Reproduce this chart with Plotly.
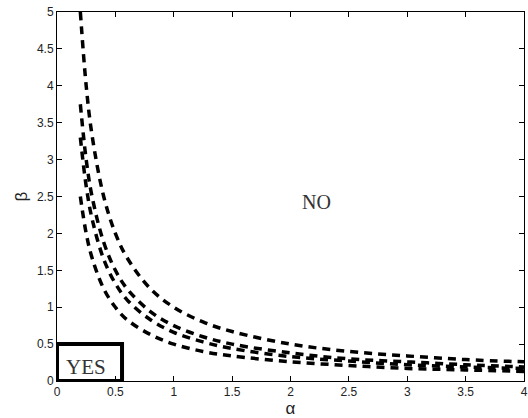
import plotly.graph_objects as go

# alpha values at which the curves were read
alpha = [0.2, 0.25, 0.3, 0.4, 0.5, 0.6, 0.8, 1.0, 1.25, 1.5, 2.0, 2.5, 3.0, 3.5, 4.0]

# beta values (four dashed curves, outer to inner)
beta_a = [5.0, 4.0, 3.33, 2.5, 2.0, 1.67, 1.25, 1.0, 0.8, 0.67, 0.5, 0.4, 0.34, 0.29, 0.26]
beta_b = [3.75, 3.0, 2.5, 1.88, 1.5, 1.25, 0.94, 0.75, 0.6, 0.5, 0.38, 0.3, 0.26, 0.22, 0.19]
beta_c = [3.3, 2.64, 2.2, 1.65, 1.32, 1.1, 0.83, 0.66, 0.53, 0.44, 0.33, 0.27, 0.22, 0.19, 0.17]
beta_d = [2.5, 2.0, 1.67, 1.25, 1.0, 0.83, 0.63, 0.5, 0.4, 0.34, 0.26, 0.21, 0.17, 0.15, 0.13]

x_ticks = [0, 0.5, 1, 1.5, 2, 2.5, 3, 3.5, 4]
y_ticks = [0, 0.5, 1, 1.5, 2, 2.5, 3, 3.5, 4, 4.5, 5]

yes_box = (0, 0, 0.557, 0.5)
yes_pos = (0.25, 0.19)
no_pos = (2.22, 2.42)

fig = go.Figure()
for b in [beta_a, beta_b, beta_c, beta_d]:
    fig.add_trace(go.Scatter(
        x=alpha, y=b, mode="lines", line_shape="spline",
        line=dict(color="black", width=3.5, dash="8px,6px"),
        showlegend=False, hoverinfo="skip"))

fig.add_shape(type="rect", xref="x", yref="y",
              x0=yes_box[0], y0=yes_box[1], x1=yes_box[2], y1=yes_box[3],
              line=dict(color="black", width=4), layer="above")

serif = "Liberation Serif, Times New Roman, serif"
fig.add_annotation(x=yes_pos[0], y=yes_pos[1], text="YES", showarrow=False,
                   font=dict(family=serif, size=21, color="#333"))
fig.add_annotation(x=no_pos[0], y=no_pos[1], text="NO", showarrow=False,
                   font=dict(family=serif, size=20, color="#333"))

sans = "Liberation Sans, Arial, sans-serif"
axis_common = dict(
    showgrid=False, zeroline=False, showline=True, linecolor="black",
    linewidth=1, mirror="ticks", ticks="inside", ticklen=5,
    tickcolor="black", tickfont=dict(family=sans, size=12, color="#222"),
)
fig.update_xaxes(range=[0, 4], tickvals=x_ticks,
                 ticktext=[("%g" % v) for v in x_ticks],
                 title=dict(text="α", font=dict(family=sans, size=17, color="#222"),
                            standoff=3),
                 **axis_common)
fig.update_yaxes(range=[0, 5], tickvals=y_ticks,
                 ticktext=[("%g" % v) for v in y_ticks],
                 title=dict(text="β", font=dict(family=sans, size=17, color="#222"),
                            standoff=4),
                 **axis_common)

fig.update_layout(width=528, height=418, plot_bgcolor="white", paper_bgcolor="white",
                  margin=dict(l=57, r=4, t=12, b=37, autoexpand=False))

fig.write_html("out.html", config={"displayModeBar": False},
               post_script="document.body.style.margin='0';document.body.style.overflow='hidden';")
